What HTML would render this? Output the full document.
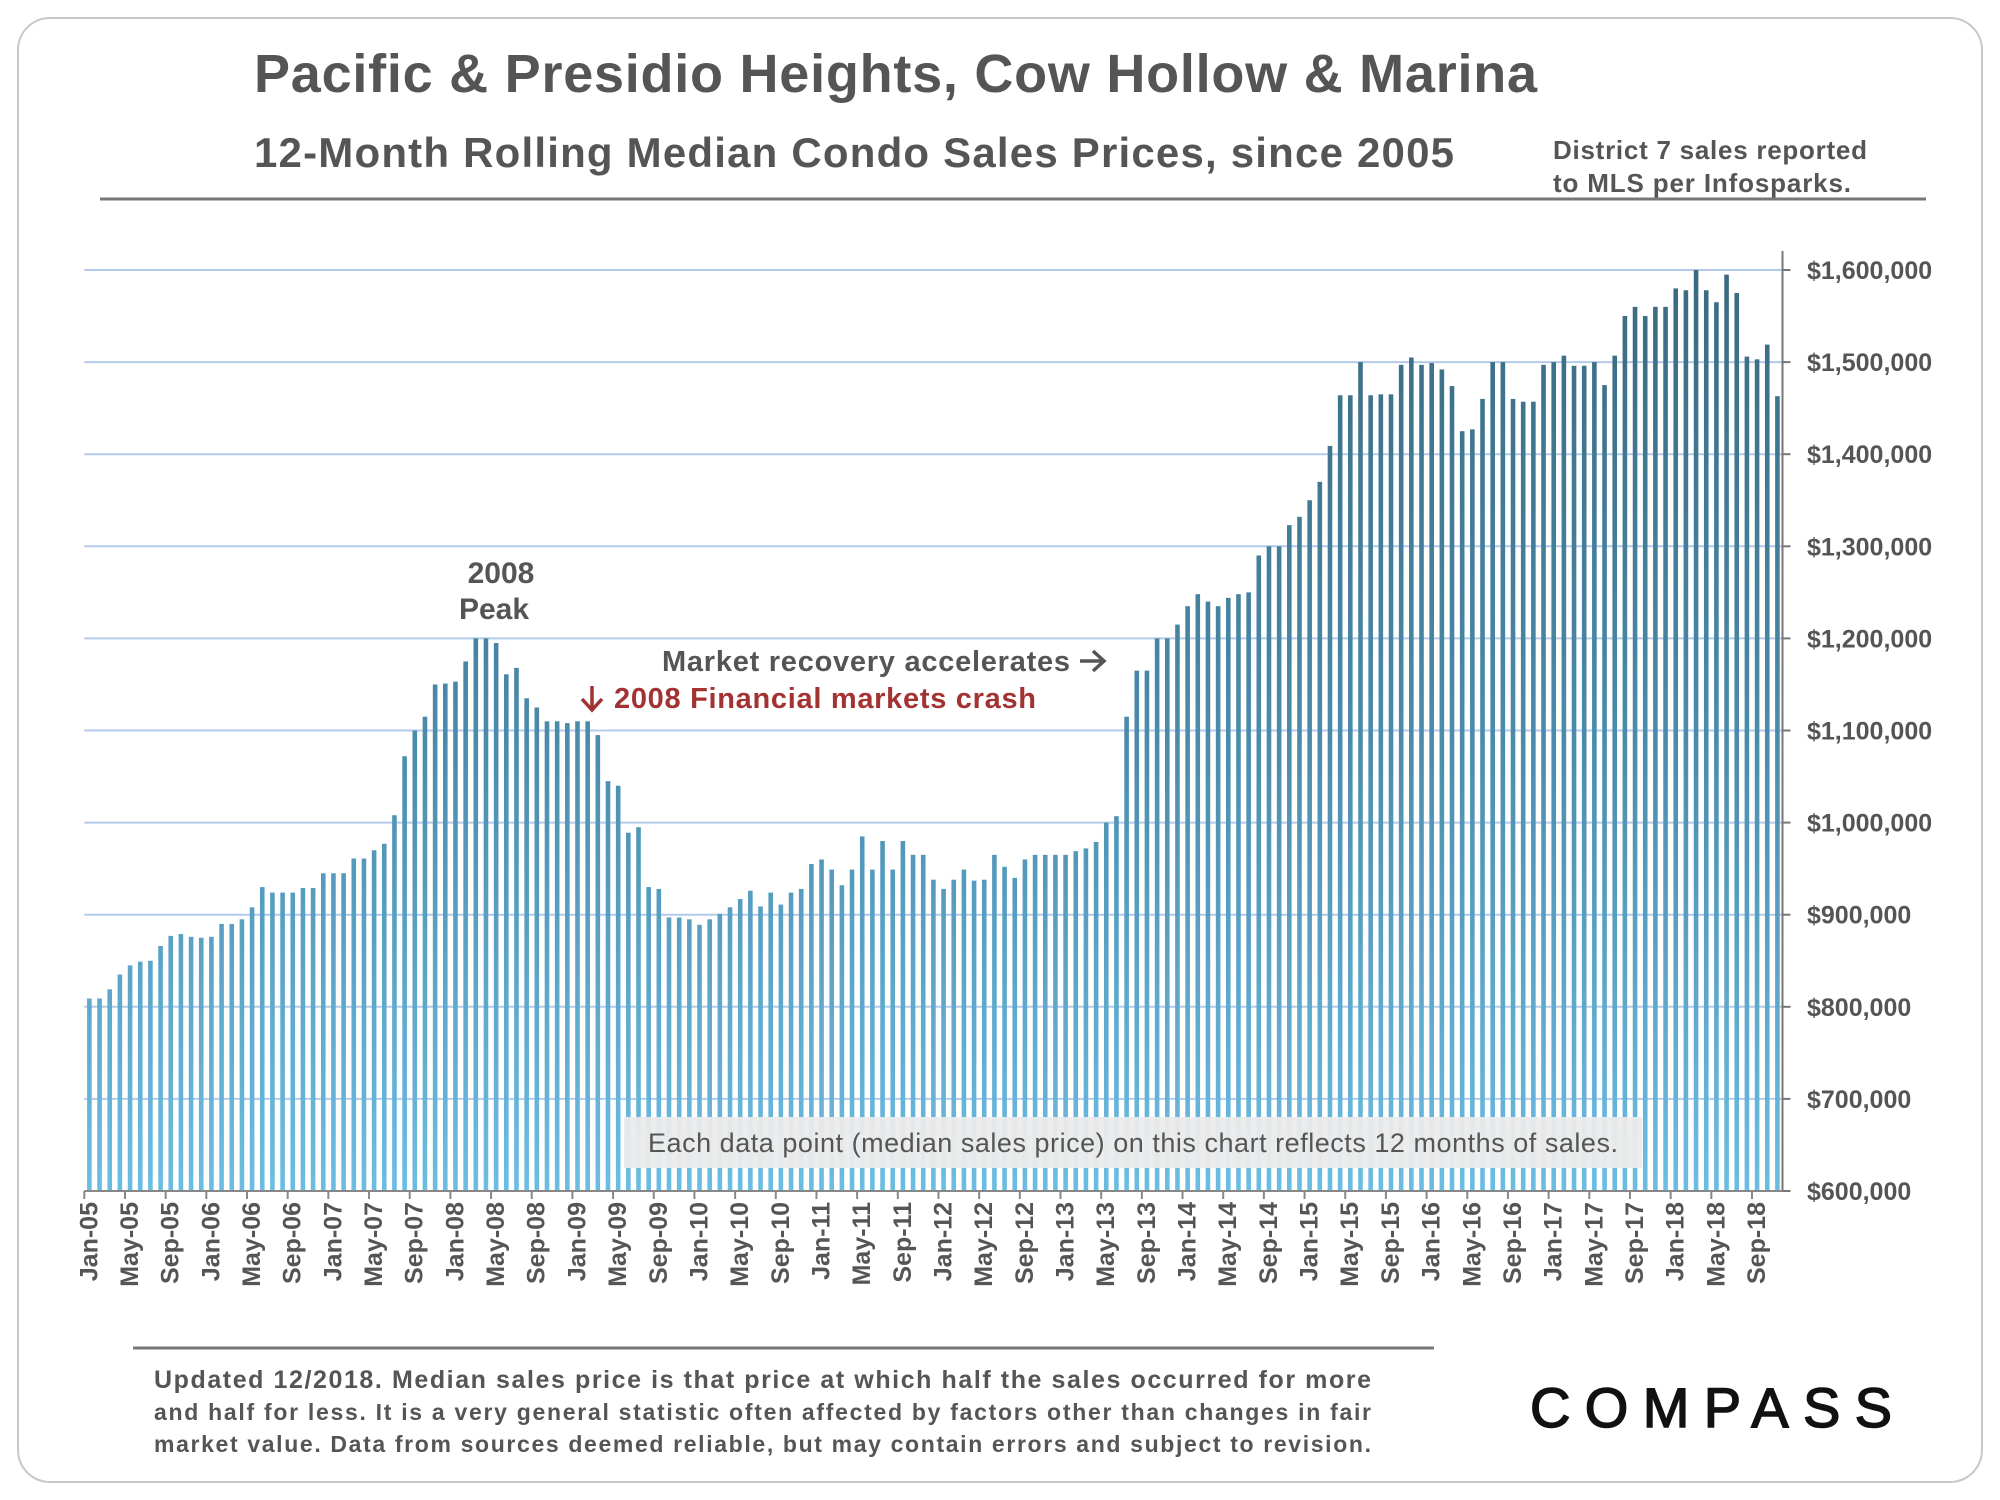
<!DOCTYPE html>
<html><head><meta charset="utf-8"><style>
html,body{margin:0;padding:0;background:#fff;}
svg{display:block;font-family:"Liberation Sans",Arial,sans-serif;}
</style></head><body>
<svg id="chart" width="2000" height="1500" viewBox="0 0 2000 1500">
<defs>
<linearGradient id="barGrad" gradientUnits="userSpaceOnUse" x1="0" y1="270" x2="0" y2="1191">
<stop offset="0" stop-color="#3a6a80"/><stop offset="0.5" stop-color="#4a8aab"/><stop offset="1" stop-color="#6cbde3"/>
</linearGradient>
</defs>
<rect x="18" y="18" width="1964" height="1464" rx="32" fill="#fff" stroke="#c8c8c8" stroke-width="2"/>
<text x="254" y="92" font-size="54" font-weight="bold" fill="#555" textLength="1283">Pacific &amp; Presidio Heights, Cow Hollow &amp; Marina</text>
<text x="254" y="167" font-size="42" font-weight="bold" fill="#555" textLength="1200">12-Month Rolling Median Condo Sales Prices, since 2005</text>
<text x="1553" y="159" font-size="26" font-weight="bold" fill="#555" textLength="314">District 7 sales reported</text>
<text x="1553" y="192" font-size="26" font-weight="bold" fill="#555" textLength="298">to MLS per Infosparks.</text>
<line x1="100" y1="199" x2="1926" y2="199" stroke="#777" stroke-width="3"/>
<g id="grid"></g>
<g id="bars"></g>
<g id="axes"></g>
<text x="501" y="583" font-size="30" font-weight="bold" fill="#555" text-anchor="middle">2008</text>
<text x="494" y="619" font-size="30" font-weight="bold" fill="#555" text-anchor="middle">Peak</text>
<text x="662" y="671" font-size="29" font-weight="bold" fill="#555" textLength="408">Market recovery accelerates</text>
<path d="M1080 661 H1103 M1093 651 L1104 661 L1093 671" fill="none" stroke="#555" stroke-width="3.5"/>
<path d="M592 686 V709 M582 699 L592 710 L602 699" fill="none" stroke="#a33232" stroke-width="3.5"/>
<text x="614" y="708" font-size="29" font-weight="bold" fill="#a33232" textLength="422">2008 Financial markets crash</text>
<rect x="624" y="1117" width="1018" height="51" fill="#ebebeb" fill-opacity="0.95"/>
<text x="1133" y="1152" font-size="27" fill="#555" text-anchor="middle" textLength="970">Each data point (median sales price) on this chart reflects 12 months of sales.</text>
<line x1="133" y1="1348" x2="1434" y2="1348" stroke="#777" stroke-width="3"/>
<text x="154" y="1388" font-size="25" font-weight="bold" fill="#555" textLength="1217">Updated 12/2018. Median sales price is that price at which half the sales occurred for more</text>
<text x="154" y="1420" font-size="23" font-weight="bold" fill="#555" textLength="1217">and half for less. It is a very general statistic often affected by factors other than changes in fair</text>
<text x="154" y="1452" font-size="23" font-weight="bold" fill="#555" textLength="1217">market value. Data from sources deemed reliable, but may contain errors and subject to revision.</text>
<text x="1530" y="1427" font-size="56" fill="#111" stroke="#111" stroke-width="1.5" textLength="362">COMPASS</text>
</svg>
<script>
const values = [809,809,819,835,845,849,850,866,877,879,876,875,
876,890,890,895,908,930,924,924,924,929,929,945,
945,945,961,961,970,977,1008,1072,1100,1115,1150,1151,
1153,1175,1200,1200,1195,1161,1168,1135,1125,1110,1110,1108,
1110,1110,1095,1045,1040,989,995,930,928,897,897,895,
889,895,901,908,917,926,909,924,911,924,928,955,
960,949,932,949,985,949,980,949,980,965,965,938,
928,938,949,937,938,965,952,940,960,965,965,965,
965,969,972,979,1000,1007,1115,1165,1165,1200,1200,1215,
1235,1248,1240,1235,1244,1248,1250,1290,1300,1300,1323,1332,
1350,1370,1409,1464,1464,1500,1464,1465,1465,1497,1505,1497,
1499,1492,1474,1425,1427,1460,1500,1500,1460,1457,1457,1497,
1500,1507,1496,1496,1500,1475,1507,1550,1560,1550,1560,1560,
1580,1578,1600,1578,1565,1595,1575,1506,1503,1519,1463];
const monthNames = ["Jan","Feb","Mar","Apr","May","Jun","Jul","Aug","Sep","Oct","Nov","Dec"];
const yTicks = [600,700,800,900,1000,1100,1200,1300,1400,1500,1600];
const yTickLabels = ["$600,000","$700,000","$800,000","$900,000","$1,000,000","$1,100,000","$1,200,000","$1,300,000","$1,400,000","$1,500,000","$1,600,000"];

const NS = "http://www.w3.org/2000/svg";
const X0 = 84.3, X1 = 1782.5, Y0 = 1191, Y1 = 270;
const yMin = 600, yMax = 1600;
const band = (X1 - X0) / values.length;
function xScale(i){ return X0 + band * i; }
function yScale(v){ return Y0 - (v - yMin) / (yMax - yMin) * (Y0 - Y1); }
function mk(tag, attrs, parent){ const e=document.createElementNS(NS,tag); for(const k in attrs) e.setAttribute(k, attrs[k]); parent.appendChild(e); return e; }

const grid = document.getElementById('grid');
const bars = document.getElementById('bars');
const axes = document.getElementById('axes');

yTicks.forEach((t, i) => {
  const y = yScale(t);
  if (t > yMin) {
    const gl = mk('line', {x1: X0, x2: X1, y1: y, y2: y, stroke: '#b3cbe8', 'stroke-width': 2}, grid);
    
    
  }
  const tk = mk('line', {x1: X1, x2: X1 + 8, y1: y, y2: y, stroke: '#777', 'stroke-width': 2}, axes);
  
  
  const lb = mk('text', {x: 1807, y: y + 9, 'font-size': 25, 'font-weight': 'bold', fill: '#555'}, axes);
  lb.textContent = yTickLabels[i];
  
  
});

const bw = 4.6;
values.forEach((v, i) => {
  const cx = xScale(i) + band / 2;
  const y = yScale(v);
  const r = mk('rect', {x: cx - bw / 2, y: y, width: bw, height: Y0 - y, fill: 'url(#barGrad)'}, bars);
  
  
});

const axisLine = mk('line', {x1: X1, x2: X1, y1: 251, y2: Y0, stroke: '#777', 'stroke-width': 2}, axes);


const baseLine = mk('line', {x1: X0, x2: X1, y1: Y0, y2: Y0, stroke: '#888', 'stroke-width': 2}, axes);



for (let i = 0; i < values.length; i += 4) {
  const x = xScale(i);
  const tk = mk('line', {x1: x, x2: x, y1: Y0, y2: Y0 + 8, stroke: '#888', 'stroke-width': 2}, axes);
  
  
  const lx = x + 13, ly = 1202;
  const lb = mk('text', {x: lx, y: ly, 'font-size': 25, 'font-weight': 'bold', fill: '#555', 'text-anchor': 'end', transform: 'rotate(-90 ' + lx + ' ' + ly + ')'}, axes);
  lb.textContent = monthNames[i % 12] + '-' + String(5 + Math.floor(i / 12)).padStart(2, '0');
  
  
}
</script>
</body></html>
